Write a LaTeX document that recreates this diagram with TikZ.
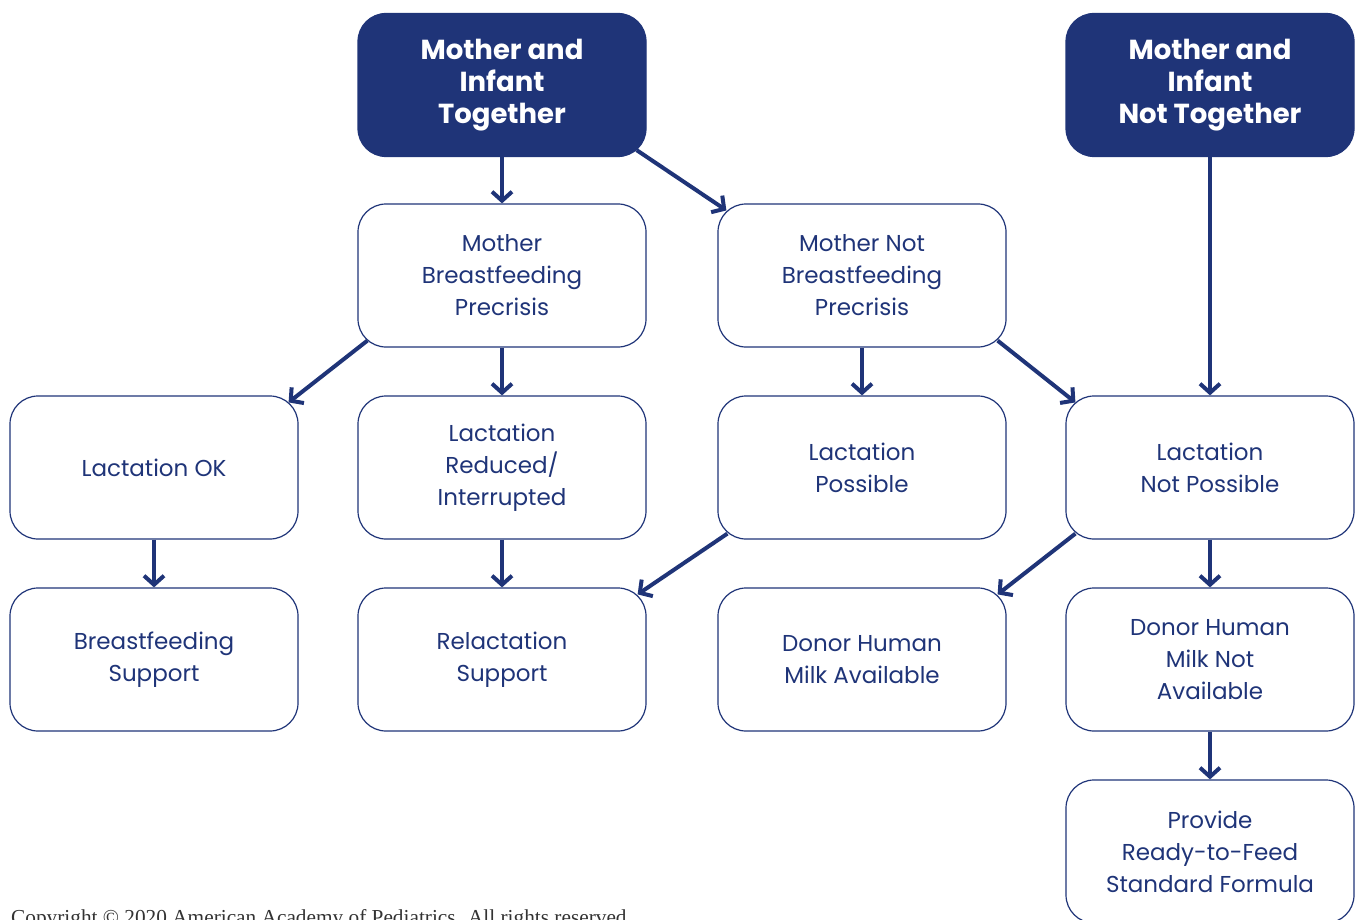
\documentclass[tikz,border=0pt]{standalone}
\usepackage{fontspec}
\setmainfont{Poppins}
\newfontfamily\copyfont{Liberation Serif}
\usetikzlibrary{arrows.meta}
\definecolor{navy}{HTML}{1F3478}
\begin{document}
\begin{tikzpicture}[x=1pt,y=-1pt,
  box/.style={draw=navy, line width=1.2pt, rounded corners=28pt, minimum width=288pt, minimum height=143pt, align=center, text=navy, font=\fontsize{23}{32}\selectfont, inner sep=0pt},
  topbox/.style={box, fill=navy, text=white, font=\fontsize{27.5}{32}\bfseries\selectfont},
  arr/.style={draw=navy, line width=4pt, -{Straight Barb[length=9pt, width=20pt]}}]
\useasboundingbox (0,0) rectangle (1357,920);
\node[topbox] (T) at (502,85) {Mother and\\Infant\\Together};
\node[topbox] (NT) at (1210,85) {Mother and\\Infant\\Not Together};
\node[box] (MB) at (502,275.5) {Mother\\Breastfeeding\\Precrisis};
\node[box] (MNB) at (862,275.5) {Mother Not\\Breastfeeding\\Precrisis};
\node[box] (LOK) at (154,467.5) {Lactation OK};
\node[box] (LRI) at (502,467.5) {Lactation\\Reduced/\\Interrupted};
\node[box] (LP) at (862,467.5) {Lactation\\Possible};
\node[box] (LNP) at (1210,467.5) {Lactation\\Not Possible};
\node[box] (BS) at (154,659.5) {Breastfeeding\\Support};
\node[box] (RS) at (502,659.5) {Relactation\\Support};
\node[box] (DHM) at (862,659.5) {Donor Human\\Milk Available};
\node[box] (DHMNA) at (1210,659.5) {Donor Human\\Milk Not\\Available};
\node[box] (PR) at (1210,851.5) {Provide\\Ready-to-Feed\\Standard Formula};
\node[anchor=base west, inner sep=0pt, font=\copyfont\fontsize{21.3}{24}\selectfont, text=black!80] (copy) at (11,924) {Copyright \textcopyright{} 2020 American Academy of Pediatrics. All rights reserved.};
\draw[arr] (T.south) -- (MB.north);
\draw[arr] ([shift={(-10,-7)}]T.south east) -- ([shift={(9,7)}]MNB.north west);
\draw[arr] (NT.south) -- (LNP.north);
\draw[arr] ([shift={(10,-7)}]MB.south west) -- ([shift={(-10,7)}]LOK.north east);
\draw[arr] (MB.south) -- (LRI.north);
\draw[arr] (MNB.south) -- (LP.north);
\draw[arr] ([shift={(-9,-7)}]MNB.south east) -- ([shift={(10,7)}]LNP.north west);
\draw[arr] (LOK.south) -- (BS.north);
\draw[arr] (LRI.south) -- (RS.north);
\draw[arr] ([shift={(10,-6)}]LP.south west) -- ([shift={(-9,7)}]RS.north east);
\draw[arr] ([shift={(10,-6)}]LNP.south west) -- ([shift={(-9,7)}]DHM.north east);
\draw[arr] (LNP.south) -- (DHMNA.north);
\draw[arr] (DHMNA.south) -- (PR.north);
\end{tikzpicture}
\end{document}
